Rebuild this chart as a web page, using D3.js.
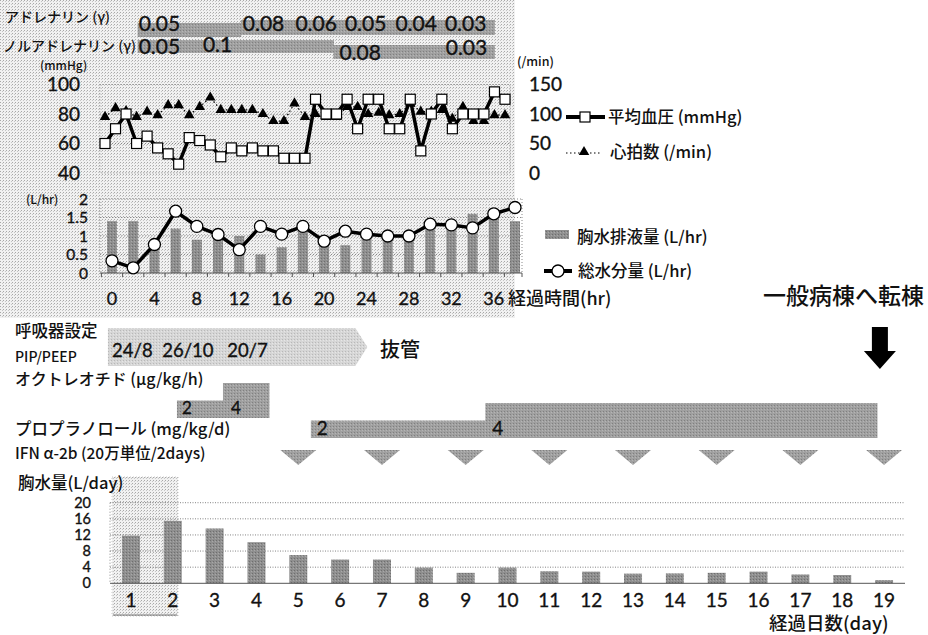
<!DOCTYPE html>
<html><head><meta charset="utf-8">
<script src="https://cdn.jsdelivr.net/npm/d3@7"></script>
<style>
body{margin:0;background:#fff;}
svg{display:block;}
text{font-family:"Noto Sans CJK JP","Noto Sans",sans-serif;fill:#111;font-weight:500;}
.num{font-family:Lato,"Noto Sans",sans-serif;font-weight:400;stroke:#111;stroke-width:0.35px;}
</style></head><body>
<svg id="chart" width="928" height="635"></svg>
<script>
// ---------- DATA ----------
const hours = [0,1,2,3,4,5,6,7,8,9,10,11,12,13,14,15,16,17,18,19,20,21,22,23,24,25,26,27,28,29,30,31,32,33,34,35,36,37,38];
const meanBP = [60,70,80,60,65,57,53,46,64,62,59,51,57,55,57,55,55,50,50,50,90,80,80,90,70,90,90,70,70,90,55,80,90,70,80,80,80,95,90];
const heartRate = [95,110,105,95,104,98,115,115,98,112,128,107,107,107,107,100,88,88,118,95,100,95,95,112,112,100,102,98,100,118,104,104,107,92,112,88,88,98,98];
const bpTicks = [40,60,80,100];
const hrTicks = [0,50,100,150];

const fluidHours = [0,2,4,6,8,10,12,14,16,18,20,22,24,26,28,30,32,34,36,38];
const fluidTickLabels = [0,4,8,12,16,20,24,28,32,36];
const drainage = [1.4,1.4,0.75,1.2,0.9,0.95,1.0,0.5,0.7,1.15,0.8,0.75,1.05,0.9,0.95,1.25,1.25,1.6,1.5,1.4];
const totalWater = [0.33,0.14,0.77,1.67,1.26,1.04,0.63,1.26,1.05,1.26,0.86,1.13,1.05,1.0,1.0,1.32,1.3,1.22,1.6,1.77];
const fluidTicks = [0,0.5,1,1.5,2];
const fluidTickText = ["0","0.5","1","1.5","2"];

const days = [1,2,3,4,5,6,7,8,9,10,11,12,13,14,15,16,17,18,19];
const dailyEffusion = [11.8,15.5,13.6,10.2,7.0,5.9,5.9,3.9,2.6,3.9,3.0,2.9,2.4,2.45,2.6,2.9,2.2,2.05,0.8];
const effusionTicks = [0,4,8,12,16,20];

// drugs (hour timeline)
const adrenalineDoses = ["0.05","0.08","0.06","0.05","0.04","0.03"];
const adrenalineStart = [3.1,12.9,17.9,22.6,27.4,32.1];
const adrenalineLevel = [0,1,1,1,1,1];
const noradrenalineDoses = ["0.05","0.1","0.08","0.03"];
const noradrenalineStart = [3.1,9.4,21.7,31.8];
const noradrenalineLevel = [0,0,1,1];
const drugEnd = 37;

// treatments (day timeline)
const ventSettings = ["24/8","26/10","20/7"];
const ventLabelDay = [0.55,1.75,3.3];
const ventFrom = 0.45, ventTo = 6.65;
const octreotideDose = [2,4];
const octreotideFrom = [2.1,3.2];
const octreotideTo = [3.2,4.3];
const propranololDose = [2,4];
const propranololFrom = [5.3,9.47];
const propranololTo = [9.47,18.83];
const ifnDays = [5,7,9,11,13,15,17,19];
const transferDay = 18.9;

// ---------- DRAW ----------
const svg = d3.select("#chart");
const defs = svg.append("defs");
function stipple(id, base, dot1, dot2){
  const p = defs.append("pattern").attr("id",id).attr("width",3).attr("height",3).attr("patternUnits","userSpaceOnUse");
  p.append("rect").attr("width",3).attr("height",3).attr("fill",base);
  p.append("rect").attr("x",0).attr("y",0).attr("width",1).attr("height",1).attr("fill",dot1);
  p.append("rect").attr("x",2).attr("y",1).attr("width",1).attr("height",1).attr("fill",dot2);
}
stipple("bg","#f1f1f1","#a8a8a8","#c6c6c6");
stipple("barg","#8f8f8f","#6e6e6e","#a8a8a8");
stipple("drug","#a0a0a0","#808080","#b5b5b5");
stipple("vent","#d6d6d6","#b8b8b8","#e6e6e6");

// background of upper panel
svg.append("rect").attr("x",0).attr("y",0).attr("width",515).attr("height",318).attr("fill","url(#bg)");

// ----- top drug bars -----
const xH = d3.scaleLinear().domain([0,38]).range([105,505]);
svg.append("text").attr("x",5).attr("y",22).attr("font-size",14).text("アドレナリン (γ)");
svg.append("text").attr("x",3).attr("y",51).attr("font-size",14).text("ノルアドレナリン (γ)");
const adY = [[23,37],[20,35]];
adrenalineDoses.forEach((d,i)=>{
  const x0 = xH(adrenalineStart[i]), x1 = xH(i<adrenalineDoses.length-1?adrenalineStart[i+1]:drugEnd);
  const lv = adY[adrenalineLevel[i]];
  svg.append("rect").attr("x",x0).attr("y",lv[0]).attr("width",x1-x0+0.5).attr("height",lv[1]-lv[0]).attr("fill","url(#drug)");
});
adrenalineDoses.forEach((d,i)=>{
  svg.append("text").attr("class","num").attr("x",xH(adrenalineStart[i])+(i===0?1:2)).attr("y",31).attr("font-size",21).text(d);
});
const noY = [[40,53],[45,59]];
const noTextY = [54,52,60,55];
noradrenalineDoses.forEach((d,i)=>{
  const x0 = xH(noradrenalineStart[i]), x1 = xH(i<noradrenalineDoses.length-1?noradrenalineStart[i+1]:drugEnd);
  const lv = noY[noradrenalineLevel[i]];
  svg.append("rect").attr("x",x0).attr("y",lv[0]).attr("width",x1-x0+0.5).attr("height",lv[1]-lv[0]).attr("fill","url(#drug)");
});
noradrenalineDoses.forEach((d,i)=>{
  svg.append("text").attr("class","num").attr("x",xH(noradrenalineStart[i])+(i===0?1:i===1?-1:6)).attr("y",noTextY[i]).attr("font-size",21).text(d);
});

// ----- BP / HR chart -----
const yBP = d3.scaleLinear().domain([40,100]).range([173,84.5]);
const yHR = d3.scaleLinear().domain([0,150]).range([173,84.5]);
const topG = svg.append("g");
topG.append("rect").attr("x",100).attr("y",yBP(100)).attr("width",410).attr("height",yBP(40)-yBP(100))
  .attr("fill","none").attr("stroke","#9a9a9a").attr("stroke-width",1).attr("stroke-dasharray","1,2");
[60,80].forEach(v=>topG.append("line").attr("x1",100).attr("x2",510).attr("y1",yBP(v)).attr("y2",yBP(v))
  .attr("stroke","#8a8a8a").attr("stroke-dasharray","1,2"));
bpTicks.forEach(v=>topG.append("text").attr("class","num").attr("x",80).attr("y",yBP(v)+6.5).attr("text-anchor","end").attr("font-size",19).text(v));
hrTicks.forEach(v=>topG.append("text").attr("class","num").attr("x",529).attr("y",yHR(v)+6.5).attr("font-size",19).text(v));
topG.append("text").attr("x",40).attr("y",70).attr("font-size",12).text("(mmHg)");
topG.append("text").attr("x",517).attr("y",66).attr("font-size",12.5).text("(/min)");

const hrLine = d3.line().x((d,i)=>xH(hours[i])).y(d=>yHR(d));
topG.append("path").attr("d",hrLine(heartRate)).attr("fill","none").attr("stroke","#000").attr("stroke-width",1.2).attr("stroke-dasharray","1.5,2.5");
topG.selectAll(".tri").data(heartRate).join("path")
  .attr("transform",(d,i)=>`translate(${xH(hours[i])},${yHR(d)})`)
  .attr("d",d3.symbol(d3.symbolTriangle).size(48)).attr("fill","#000");
const bpLine = d3.line().x((d,i)=>xH(hours[i])).y(d=>yBP(d));
topG.append("path").attr("d",bpLine(meanBP)).attr("fill","none").attr("stroke","#000").attr("stroke-width",3.5).attr("stroke-linejoin","round");
topG.selectAll(".sq").data(meanBP).join("rect")
  .attr("x",(d,i)=>xH(hours[i])-5).attr("y",d=>yBP(d)-5).attr("width",10).attr("height",10)
  .attr("fill","#fff").attr("stroke","#000").attr("stroke-width",1.2);

// legend 1
const lg = svg.append("g");
lg.append("line").attr("x1",566).attr("x2",605).attr("y1",117).attr("y2",117).attr("stroke","#000").attr("stroke-width",4);
lg.append("rect").attr("x",580).attr("y",112).attr("width",10).attr("height",10).attr("fill","#fff").attr("stroke","#000").attr("stroke-width",1.2);
lg.append("text").attr("x",608).attr("y",123).attr("font-size",16.5).text("平均血圧 (mmHg)");
lg.append("line").attr("x1",566).attr("x2",602).attr("y1",153).attr("y2",153).attr("stroke","#000").attr("stroke-width",1.2).attr("stroke-dasharray","1.5,2.5");
lg.append("path").attr("transform","translate(584,152)").attr("d",d3.symbol(d3.symbolTriangle).size(48)).attr("fill","#000");
lg.append("text").attr("x",610).attr("y",158).attr("font-size",16.5).text("心拍数 (/min)");

// ----- fluid chart -----
const xF = d3.scalePoint().domain(fluidHours).range([112,515]);
const yF = d3.scaleLinear().domain([0,2]).range([273,199]);
const fl = svg.append("g");
fluidTicks.slice(1).forEach(v=>fl.append("line").attr("x1",100).attr("x2",522).attr("y1",yF(v)).attr("y2",yF(v))
  .attr("stroke","#8a8a8a").attr("stroke-dasharray","1,2"));
fl.append("line").attr("x1",100).attr("x2",100).attr("y1",yF(2)).attr("y2",yF(0)).attr("stroke","#8a8a8a").attr("stroke-dasharray","1,2");
fl.append("line").attr("x1",522).attr("x2",522).attr("y1",yF(2)).attr("y2",yF(0)).attr("stroke","#8a8a8a").attr("stroke-dasharray","1,2");
fl.selectAll(".bar").data(drainage).join("rect")
  .attr("x",(d,i)=>xF(fluidHours[i])-5).attr("y",d=>yF(d)).attr("width",10).attr("height",d=>yF(0)-yF(d)).attr("fill","url(#barg)");
fl.append("line").attr("x1",100).attr("x2",522).attr("y1",yF(0)).attr("y2",yF(0)).attr("stroke","#555").attr("stroke-width",1);
fluidHours.forEach(h=>fl.append("line").attr("x1",xF(h)-10.6).attr("x2",xF(h)-10.6).attr("y1",yF(0)).attr("y2",yF(0)+4).attr("stroke","#555"));
fl.append("line").attr("x1",522).attr("x2",522).attr("y1",yF(0)).attr("y2",yF(0)+4).attr("stroke","#555");
const twLine = d3.line().x((d,i)=>xF(fluidHours[i])).y(d=>yF(d));
fl.append("path").attr("d",twLine(totalWater)).attr("fill","none").attr("stroke","#000").attr("stroke-width",3.5).attr("stroke-linejoin","round");
fl.selectAll(".cir").data(totalWater).join("circle")
  .attr("cx",(d,i)=>xF(fluidHours[i])).attr("cy",d=>yF(d)).attr("r",6).attr("fill","#fff").attr("stroke","#000").attr("stroke-width",1.3);
fluidTicks.forEach((v,i)=>fl.append("text").attr("class","num").attr("x",88).attr("y",yF(v)+5.5).attr("text-anchor","end").attr("font-size",15.5).text(fluidTickText[i]));
fl.append("text").attr("x",26).attr("y",204).attr("font-size",12).text("(L/hr)");
fluidTickLabels.forEach(v=>fl.append("text").attr("class","num").attr("x",xF(v)).attr("y",305).attr("text-anchor","middle").attr("font-size",18).text(v));
fl.append("text").attr("x",508).attr("y",305).attr("font-size",18).text("経過時間(hr)");

// legend 2
lg.append("rect").attr("x",545).attr("y",230).attr("width",24).attr("height",9).attr("fill","url(#barg)");
lg.append("text").attr("x",577).attr("y",243).attr("font-size",16.5).text("胸水排液量 (L/hr)");
lg.append("line").attr("x1",544).attr("x2",572).attr("y1",271).attr("y2",271).attr("stroke","#000").attr("stroke-width",4);
lg.append("circle").attr("cx",558).attr("cy",271).attr("r",6).attr("fill","#fff").attr("stroke","#000").attr("stroke-width",1.3);
lg.append("text").attr("x",578).attr("y",277).attr("font-size",16.5).text("総水分量 (L/hr)");

// ----- day timeline -----
const xD = d3.scaleBand().domain(days).range([110,905]).paddingInner(0.57).paddingOuter(0.285);
const xDL = d3.scaleLinear().domain([1,19]).range([xD(1)+xD.bandwidth()/2, xD(19)+xD.bandwidth()/2]);
const mid = svg.append("g");

svg.append("text").attr("x",763).attr("y",304).attr("font-size",23).text("一般病棟へ転棟");
const ax = xDL(transferDay);
mid.append("path").attr("d",`M${ax-8},327 L${ax+8},327 L${ax+8},351 L${ax+16},351 L${ax},369 L${ax-16},351 L${ax-8},351 Z`).attr("fill","#000");

mid.append("text").attr("x",15).attr("y",337).attr("font-size",16.5).text("呼吸器設定");
mid.append("text").attr("x",15).attr("y",362).attr("font-size",14).text("PIP/PEEP");
const v0 = xDL(ventFrom), v1 = xDL(ventTo);
mid.append("path").attr("d",`M${v0},328 L${v1-12},328 L${v1},347 L${v1-12},366 L${v0},366 Z`).attr("fill","url(#vent)");
ventSettings.forEach((s,i)=>mid.append("text").attr("class","num").attr("x",xDL(ventLabelDay[i])).attr("y",357).attr("font-size",18.5).text(s));
mid.append("text").attr("x",380).attr("y",357).attr("font-size",20).text("抜管");

mid.append("text").attr("x",15).attr("y",385).attr("font-size",16).text("オクトレオチド (µg/kg/h)");
const doseH = d3.scaleLinear().domain([0,4]).range([0,35]);
octreotideDose.forEach((d,i)=>{
  const x0 = xDL(octreotideFrom[i]), x1 = xDL(octreotideTo[i]);
  mid.append("rect").attr("x",x0).attr("y",418-doseH(d)).attr("width",x1-x0+0.5).attr("height",doseH(d)).attr("fill","url(#drug)");
  mid.append("text").attr("class","num").attr("x",x0+(i===0?5:8)).attr("y",414).attr("font-size",17).text(d);
});
mid.append("text").attr("x",15).attr("y",435).attr("font-size",16.5).text("プロプラノロール (mg/kg/d)");
propranololDose.forEach((d,i)=>{
  const x0 = xDL(propranololFrom[i]), x1 = xDL(propranololTo[i]);
  mid.append("rect").attr("x",x0).attr("y",438-doseH(d)).attr("width",x1-x0+0.5).attr("height",doseH(d)).attr("fill","url(#drug)");
  mid.append("text").attr("class","num").attr("x",x0+(i===0?6:7)).attr("y",435).attr("font-size",19).text(d);
});
mid.append("text").attr("x",15).attr("y",459).attr("font-size",15.5).text("IFN α-2b (20万単位/2days)");
ifnDays.forEach(d=>{
  const c = xDL(d);
  mid.append("path").attr("d",`M${c-18},450 L${c+18},450 L${c},465 Z`).attr("fill","url(#drug)");
});

// ----- daily effusion chart -----
const yD = d3.scaleLinear().domain([0,20]).range([583.3,502.7]);
const bt = svg.append("g");
bt.append("rect").attr("x",112).attr("y",477).attr("width",66).attr("height",139).attr("fill","url(#bg)").attr("stroke","#c8c8c8").attr("stroke-dasharray","1,2");
bt.append("line").attr("x1",113).attr("x2",177).attr("y1",615).attr("y2",615).attr("stroke","#777");
bt.append("text").attr("x",18).attr("y",489).attr("font-size",16.5).text("胸水量(L/day)");
effusionTicks.slice(1).forEach(v=>bt.append("line").attr("x1",110).attr("x2",905).attr("y1",yD(v)).attr("y2",yD(v))
  .attr("stroke","#666").attr("stroke-width",0.8).attr("stroke-dasharray","1,1.5"));
bt.append("line").attr("x1",110).attr("x2",110).attr("y1",yD(20)).attr("y2",yD(0)).attr("stroke","#888").attr("stroke-dasharray","1,2");
bt.selectAll(".dbar").data(dailyEffusion).join("rect")
  .attr("x",(d,i)=>xD(days[i])).attr("y",d=>yD(d)).attr("width",xD.bandwidth()).attr("height",d=>yD(0)-yD(d)).attr("fill","url(#barg)");
bt.append("line").attr("x1",110).attr("x2",905).attr("y1",yD(0)).attr("y2",yD(0)).attr("stroke","#555").attr("stroke-width",1);
effusionTicks.forEach(v=>bt.append("text").attr("class","num").attr("x",91).attr("y",yD(v)+5).attr("text-anchor","end").attr("font-size",14.5).text(v));
days.forEach(d=>bt.append("text").attr("class","num").attr("x",xD(d)+xD.bandwidth()/2).attr("y",607).attr("text-anchor","middle").attr("font-size",19).text(d));
bt.append("text").attr("x",769).attr("y",630).attr("font-size",18.5).text("経過日数(day)");
</script>
</body></html>
